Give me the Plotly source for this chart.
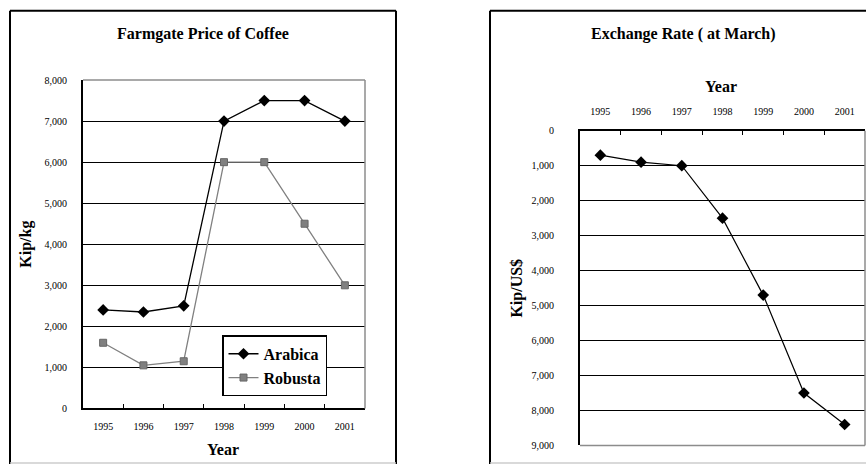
import plotly.graph_objects as go

years = ["1995", "1996", "1997", "1998", "1999", "2000", "2001"]
arabica = [2400, 2350, 2500, 7000, 7500, 7500, 7000]
robusta = [1600, 1050, 1150, 6000, 6000, 4500, 3000]
exchange_rate = [700, 900, 1000, 2500, 4700, 7500, 8400]

W, H = 866, 470
SERIF = "Liberation Serif"


def px(x):
    return x / W


def py(y):
    return 1 - y / H


fig = go.Figure()

fig.add_trace(go.Scatter(
    x=years, y=arabica, name="Arabica", mode="lines+markers",
    line=dict(color="black", width=1.3),
    marker=dict(symbol="diamond", size=9, color="black"),
    xaxis="x", yaxis="y",
))
fig.add_trace(go.Scatter(
    x=years, y=robusta, name="Robusta", mode="lines+markers",
    line=dict(color="#808080", width=1.3),
    marker=dict(symbol="square", size=7, color="#808080",
                line=dict(color="#666666", width=1)),
    xaxis="x", yaxis="y",
))
fig.add_trace(go.Scatter(
    x=years, y=exchange_rate, name="Exchange rate", mode="lines+markers",
    line=dict(color="black", width=1.2),
    marker=dict(symbol="diamond", size=9, color="black"),
    xaxis="x2", yaxis="y2", showlegend=False,
))

tickfont = dict(family=SERIF, size=10, color="black")

fig.update_layout(
    width=W, height=H,
    margin=dict(l=0, r=0, t=0, b=0),
    paper_bgcolor="white", plot_bgcolor="white",
    font=dict(family=SERIF, color="black"),
    xaxis=dict(
        domain=[px(83), px(365)], anchor="y", type="category",
        range=[-0.5, 6.5], showgrid=False, zeroline=False,
        showline=True, linecolor="black", linewidth=2,
        ticks="inside", tickson="boundaries", ticklen=4, tickcolor="black",
        tickwidth=1, tickfont=tickfont, ticklabelstandoff=8,
    ),
    yaxis=dict(
        domain=[py(413), py(76)], anchor="x", range=[0, 8000], dtick=1000,
        tickformat=",", showgrid=True, gridcolor="black", gridwidth=1,
        zeroline=False, showline=True, linecolor="black", linewidth=2,
        ticks="", tickfont=tickfont, ticklabelstandoff=12,
    ),
    xaxis2=dict(
        domain=[px(580), px(865)], anchor="y2", side="top", type="category",
        range=[-0.5, 6.5], showgrid=False, zeroline=False,
        showline=True, linecolor="black", linewidth=2,
        ticks="inside", tickson="boundaries", ticklen=4, tickcolor="black",
        tickwidth=1, tickfont=tickfont, ticklabelstandoff=10,
    ),
    yaxis2=dict(
        domain=[py(451), py(128)], anchor="x2", range=[9000, 0], dtick=1000,
        tickformat=",", showgrid=True, gridcolor="black", gridwidth=1,
        zeroline=False, showline=True, linecolor="black", linewidth=2,
        ticks="", tickfont=tickfont, ticklabelstandoff=22,
    ),
    legend=dict(
        x=px(222), y=py(338), xanchor="left", yanchor="top",
        bgcolor="white", bordercolor="black", borderwidth=1.5,
        font=dict(family=SERIF, size=16, color="black", weight="bold"),
        tracegroupgap=0, itemwidth=30,
    ),
    showlegend=True,
)

bold = dict(family=SERIF, color="black", weight="bold")
annotations = [
    dict(text="Farmgate Price of Coffee", x=px(203), y=py(29), font=dict(size=16, **bold)),
    dict(text="Exchange Rate ( at March)", x=px(683), y=py(29), font=dict(size=16, **bold)),
    dict(text="Year", x=px(223), y=py(455), font=dict(size=16, **bold)),
    dict(text="Year", x=px(721), y=py(83), font=dict(size=16, **bold)),
    dict(text="Kip/kg", x=px(26), y=py(245), textangle=-90, font=dict(size=16, **bold)),
    dict(text="Kip/US$", x=px(517), y=py(290), textangle=-90, font=dict(size=16, **bold)),
]
for a in annotations:
    a.update(xref="paper", yref="paper", showarrow=False, xanchor="center", yanchor="middle")
fig.update_layout(annotations=annotations)

shapes = []
frame = dict(type="line", xref="paper", yref="paper", line=dict(color="black", width=2))
for (x0, y0, x1, y1) in [(10, 5, 10, 470), (10, 5, 396, 5), (396, 5, 396, 470),
                         (490, 5, 490, 470), (490, 5, 866, 5)]:
    shapes.append(dict(frame, x0=px(x0), y0=py(y0), x1=px(x1), y1=py(y1)))
for (x0, x1) in [(10, 396), (490, 866)]:
    shapes.append(dict(type="line", xref="paper", yref="paper",
                       x0=px(x0), x1=px(x1), y0=py(469), y1=py(469),
                       line=dict(color="#cccccc", width=1.5)))
gray = dict(color="#8c8c8c", width=1.5)
shapes += [
    dict(type="line", xref="x domain", yref="y domain", x0=0, x1=1, y0=1, y1=1, line=gray, layer="above"),
    dict(type="line", xref="x domain", yref="y domain", x0=1, x1=1, y0=0, y1=1, line=gray, layer="above"),
    dict(type="line", xref="x2 domain", yref="y2 domain", x0=1, x1=1, y0=0, y1=1, line=gray, layer="above"),
    dict(type="line", xref="x2 domain", yref="y2 domain", x0=0, x1=1, y0=0, y1=0, line=gray, layer="above"),
]
fig.update_layout(shapes=shapes)

fig.write_html("out.html")
